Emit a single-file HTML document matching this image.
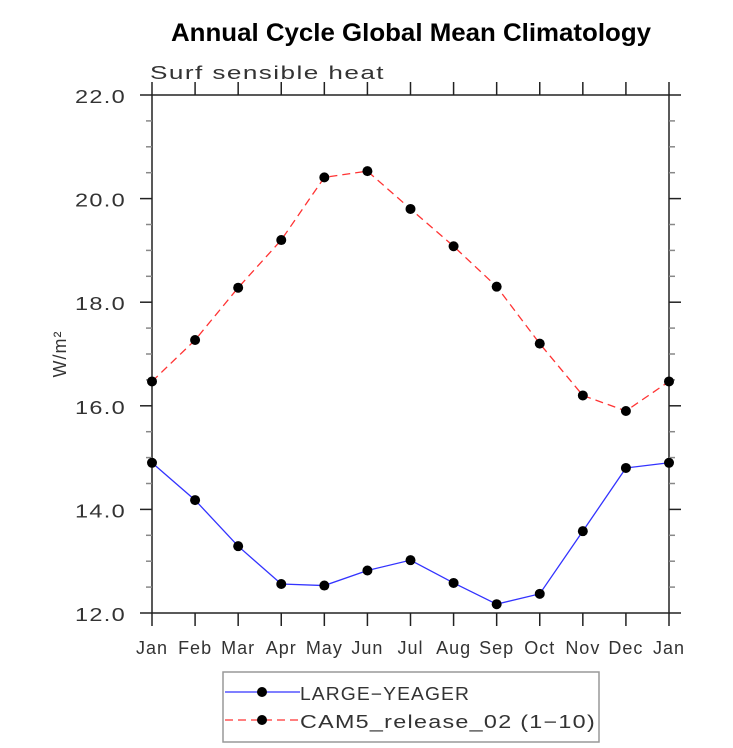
<!DOCTYPE html>
<html><head><meta charset="utf-8"><style>
html,body{margin:0;padding:0;background:#fff;}
svg{display:block;font-family:"Liberation Sans",sans-serif;}
.t{fill:#333;font-size:18px;letter-spacing:1px;}
</style></head><body>
<svg id="chart" width="733" height="748" viewBox="0 0 733 748" xmlns="http://www.w3.org/2000/svg">
<text x="411" y="41" text-anchor="middle" font-weight="bold" font-size="25" fill="#000" textLength="480" lengthAdjust="spacingAndGlyphs">Annual Cycle Global Mean Climatology</text>
<text x="150" y="79" class="t" font-size="22" textLength="235" lengthAdjust="spacingAndGlyphs">Surf sensible heat</text>
<text transform="translate(66,354) rotate(-90)" text-anchor="middle" class="t" font-size="16">W/m²</text>
<g id="axes"></g>
<g id="series"></g>
<g>
<rect x="223" y="672" width="376" height="70" fill="none" stroke="#999" stroke-width="1.5"/>
<line x1="225" y1="692" x2="300" y2="692" stroke="#3333ff" stroke-width="1.3"/>
<circle cx="262" cy="692" r="5" fill="#000"/>
<text x="300" y="700" class="t" font-size="21" textLength="170" lengthAdjust="spacingAndGlyphs">LARGE−YEAGER</text>
<line x1="225" y1="720" x2="300" y2="720" stroke="#ff3333" stroke-width="1.3" stroke-dasharray="8,5"/>
<circle cx="262" cy="720" r="5" fill="#000"/>
<text x="300" y="728" class="t" font-size="21" textLength="296" lengthAdjust="spacingAndGlyphs">CAM5_release_02 (1−10)</text>
</g>
</svg>
<script>
const months = ["Jan","Feb","Mar","Apr","May","Jun","Jul","Aug","Sep","Oct","Nov","Dec","Jan"];
const camValues = [16.47,17.27,18.28,19.2,20.41,20.53,19.8,19.08,18.3,17.2,16.2,15.9,16.47];
const lyValues = [14.9,14.18,13.29,12.56,12.53,12.82,13.02,12.58,12.17,12.37,13.58,14.8,14.9];
const yTicks = [12,14,16,18,20,22];
const yTickLabels = ["12.0","14.0","16.0","18.0","20.0","22.0"];
const NS="http://www.w3.org/2000/svg";
const X0=152,X1=669,Y0=613,Y1=95,YMIN=12,YMAX=22;
const xs=i=>X0+(X1-X0)*i/(months.length-1);
const ys=v=>Y0-(v-YMIN)/(YMAX-YMIN)*(Y0-Y1);
function mk(tag,attrs,parent){const e=document.createElementNS(NS,tag);for(const k in attrs)e.setAttribute(k,attrs[k]);parent.appendChild(e);return e;}
const ax=document.getElementById('axes');
const frame=mk('rect',{x:X0,y:Y1,width:X1-X0,height:Y0-Y1,fill:'none',stroke:'#222','stroke-width':1.5},ax);


months.forEach((m,i)=>{
  const x=xs(i);
  mk('line',{x1:x,y1:Y0,x2:x,y2:Y0+13,stroke:'#222','stroke-width':1.5},ax);
  mk('line',{x1:x,y1:Y1,x2:x,y2:Y1-13,stroke:'#222','stroke-width':1.5},ax);
  const t=mk('text',{x:x,y:654,'text-anchor':'middle',class:'t','font-size':'19'},ax);
  t.textContent=m;
  
  
});
for(let v=YMIN;v<=YMAX+1e-9;v+=0.5){
  const y=ys(v);const major=Math.abs(v/2-Math.round(v/2))<1e-6;
  const L=major?12:6;
  mk('line',{x1:X0,y1:y,x2:X0-L,y2:y,stroke:major?'#222':'#888','stroke-width':1.5},ax);
  mk('line',{x1:X1,y1:y,x2:X1+L,y2:y,stroke:major?'#222':'#888','stroke-width':1.5},ax);
}
yTicks.forEach((v,i)=>{
  const t=mk('text',{x:126,y:ys(v)+8,'text-anchor':'end',class:'t','font-size':'21',textLength:'51',lengthAdjust:'spacingAndGlyphs'},ax);
  t.textContent=yTickLabels[i];
  
  
});
const sg=document.getElementById('series');
function series(vals,color,dash,name){
  const p=mk('polyline',{points:vals.map((v,i)=>xs(i)+','+ys(v)).join(' '),fill:'none',stroke:color,'stroke-width':1.3,'stroke-dasharray':dash},sg);
  
  
  vals.forEach((v,i)=>{
    const c=mk('circle',{cx:xs(i),cy:ys(v),r:5,fill:'#000'},sg);
    
    
  });
}
series(camValues,'#ff3333','8,5','cam5');
series(lyValues,'#3333ff','none','large-yeager');
</script>
</body></html>
